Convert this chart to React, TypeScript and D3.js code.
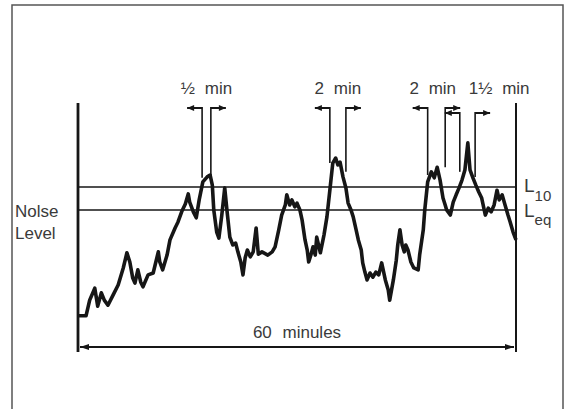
import * as d3 from "d3";

// Noise trace over the hour: time (minutes) and level (dB, relative)
const TIME = [
  0, 1.1, 1.6, 2.3, 2.7, 3.2, 3.6, 4.1, 4.8, 5.5, 6.2, 6.7, 7.1, 7.5, 7.8, 8.2, 8.6, 8.9, 9.6, 10.3,
  11.0, 11.2, 11.6, 12.2, 12.6, 13.3, 13.7, 14.2, 14.7, 15.1, 15.3, 15.8, 16.2, 16.6, 17.1, 17.7, 18.1,
  18.4, 18.6, 19.0, 19.3, 19.7, 20.1, 20.4, 20.8, 21.2, 21.6, 21.9, 22.3, 22.6, 22.9, 23.2, 23.6, 24.0,
  24.4, 24.7, 25.2, 26.0, 26.6, 27.0, 27.5, 27.9, 28.4, 28.6, 29.0, 29.3, 29.7, 30.0, 30.4, 30.7, 31.1,
  31.4, 31.6, 31.9, 32.2, 32.5, 32.7, 33.2, 33.7, 34.1, 34.5, 34.9, 35.3, 35.6, 35.9, 36.3, 36.7, 37.0,
  37.4, 37.7, 38.1, 38.4, 38.8, 39.0, 39.3, 39.6, 40.0, 40.4, 40.8, 41.2, 41.6, 42.1, 42.5, 42.7, 43.2,
  43.6, 43.8, 44.1, 44.4, 44.7, 44.9, 45.2, 45.6, 46.0, 46.6, 46.8, 47.3, 47.5, 47.9, 48.4, 48.8, 49.2,
  49.6, 50.0, 50.3, 50.5, 51.0, 51.4, 51.8, 52.2, 52.6, 53.0, 53.4, 53.7, 54.1, 54.5, 54.9, 55.3, 55.8,
  56.2, 56.6, 57.0, 57.4, 57.7, 58.1, 58.5, 58.9, 59.2, 59.6, 60.0,
];
const LEVEL = [
  47.0, 47.0, 50.4, 53.0, 49.1, 52.0, 50.4, 49.3, 51.5, 53.7, 57.4, 60.7, 58.7, 55.2, 54.1, 57.0, 54.3,
  53.3, 55.9, 56.3, 60.9, 58.7, 57.0, 60.2, 63.5, 66.1, 67.4, 69.6, 71.3, 73.5, 71.7, 69.6, 68.3, 72.2,
  76.1, 77.2, 77.6, 75.4, 70.0, 65.2, 63.9, 68.9, 74.8, 70.0, 64.1, 62.4, 62.8, 60.9, 58.7, 55.9, 59.6,
  61.3, 59.8, 60.9, 66.1, 60.4, 60.9, 60.2, 60.9, 62.0, 65.7, 68.9, 71.1, 73.3, 71.1, 72.2, 70.7, 71.5,
  70.0, 67.8, 63.5, 61.3, 58.7, 60.2, 62.0, 60.2, 64.1, 60.7, 64.6, 68.5, 74.3, 80.2, 81.3, 79.8, 80.4,
  77.2, 74.8, 71.5, 70.0, 68.5, 65.7, 63.5, 61.3, 58.5, 56.5, 54.8, 56.3, 55.4, 56.5, 55.9, 58.5, 54.8,
  52.6, 50.4, 54.8, 59.1, 62.4, 65.7, 62.4, 60.9, 62.4, 61.3, 58.7, 57.4, 57.0, 60.2, 65.7, 70.0, 76.1,
  78.3, 77.0, 79.3, 76.5, 72.6, 71.1, 70.0, 68.9, 71.7, 73.3, 74.8, 76.5, 78.7, 84.6, 78.7, 77.0, 75.4,
  73.9, 72.6, 68.9, 70.4, 69.6, 71.1, 74.3, 72.2, 73.3, 71.1, 68.9, 67.4, 65.2, 63.5,
];

const L10 = 75;
const LEQ = 70;

// Exceedance markers above the trace
const MARK_LABELS = ["½ min", "2 min", "2 min", "1½ min"];
const MARK_START = [17.0, 34.5, 47.9, 52.3];
const MARK_END = [18.2, 36.7, 50.3, 54.4];
const MARK_LABEL_AT = [17.6, 35.6, 48.6, 57.7];
const MARK_START_LEVEL = [77.0, 80.2, 77.6, 78.3];
const MARK_END_LEVEL = [77.2, 78.3, 79.3, 77.2];
const MARK_ROW = [0, 0, 0, 1];

const W = 570;
const H = 409;
const INK = "#161616";
const TEXT = "#3a3a3a";
const FONT = "'Liberation Sans', Arial, sans-serif";

export default function App() {
  const x = d3.scaleLinear().domain([0, 60]).range([78, 516]);
  const y = d3.scaleLinear().domain([40, 80]).range([348, 164]);

  const points = TIME.map((t, i) => [t, LEVEL[i]] as [number, number]);
  const trace = d3
    .line<[number, number]>()
    .x((d) => x(d[0]))
    .y((d) => y(d[1]))
    .curve(d3.curveLinear)(points);

  const axisTop = 103;
  const axisBottom = 352;
  const spanY = 347;
  const rowY = [108, 113];
  const arrowLen = 15;

  // little filled arrowhead, tip at (tx, ty), pointing dir (-1 left, 1 right)
  const head = (tx: number, ty: number, dir: number, len = 7, half = 3) =>
    `M${tx},${ty} L${tx - dir * len},${ty - half} L${tx - dir * len},${ty + half} Z`;

  return (
    <svg
      width={W}
      height={H}
      style={{ position: "absolute", left: 0, top: 0, background: "#fff" }}
      fontFamily={FONT}
    >
      <rect x={12} y={5} width={551} height={430} fill="none" stroke="#555" strokeWidth={1.5} />

      {/* time axis edges */}
      <line x1={x(0)} x2={x(0)} y1={axisTop} y2={axisBottom} stroke={INK} strokeWidth={2.8} />
      <line x1={x(60)} x2={x(60)} y1={axisTop} y2={axisBottom} stroke={INK} strokeWidth={2} />

      {/* L10 and Leq levels */}
      {[L10, LEQ].map((v) => (
        <line key={v} x1={x(0)} x2={x(60)} y1={y(v)} y2={y(v)} stroke={INK} strokeWidth={1.6} />
      ))}

      <path d={trace ?? ""} fill="none" stroke={INK} strokeWidth={3.6} strokeLinejoin="round" />

      {/* markers */}
      {MARK_LABELS.map((lab, i) => {
        const ry = rowY[MARK_ROW[i]];
        const xs = x(MARK_START[i]);
        const xe = x(MARK_END[i]);
        return (
          <g key={i}>
            <line x1={xs} x2={xs} y1={ry - 1} y2={y(MARK_START_LEVEL[i])} stroke={INK} strokeWidth={1.6} />
            <line x1={xe} x2={xe} y1={ry - 1} y2={y(MARK_END_LEVEL[i])} stroke={INK} strokeWidth={1.6} />
            <line x1={xs - arrowLen} x2={xs} y1={ry} y2={ry} stroke={INK} strokeWidth={2} />
            <path d={head(xs - arrowLen, ry, -1)} fill={INK} />
            <line x1={xe} x2={xe + arrowLen} y1={ry} y2={ry} stroke={INK} strokeWidth={2} />
            <path d={head(xe + arrowLen, ry, 1)} fill={INK} />
            <text
              x={x(MARK_LABEL_AT[i])}
              y={94}
              textAnchor="middle"
              fontSize={17}
              wordSpacing={5}
              fill={TEXT}
            >
              {lab}
            </text>
          </g>
        );
      })}

      {/* level labels */}
      <text x={524} y={y(L10) + 5} fontSize={19} fill={TEXT}>
        L<tspan fontSize={15} dy={9}>10</tspan>
      </text>
      <text x={524} y={y(LEQ) + 7} fontSize={19} fill={TEXT}>
        L<tspan fontSize={15} dy={8}>eq</tspan>
      </text>

      <text x={15} y={217} fontSize={17} fill={TEXT}>Nolse</text>
      <text x={15} y={239} fontSize={17} fill={TEXT}>Level</text>

      {/* 60 minute span */}
      <line x1={x(0) + 2} x2={x(60) - 2} y1={spanY} y2={spanY} stroke={INK} strokeWidth={2.2} />
      <path d={head(x(0) + 2, spanY, -1, 9, 3)} fill={INK} />
      <path d={head(x(60) - 2, spanY, 1, 9, 3)} fill={INK} />
      <text x={(x(0) + x(60)) / 2} y={338} textAnchor="middle" fontSize={17} wordSpacing={6} fill={TEXT}>
        60 minules
      </text>
    </svg>
  );
}
